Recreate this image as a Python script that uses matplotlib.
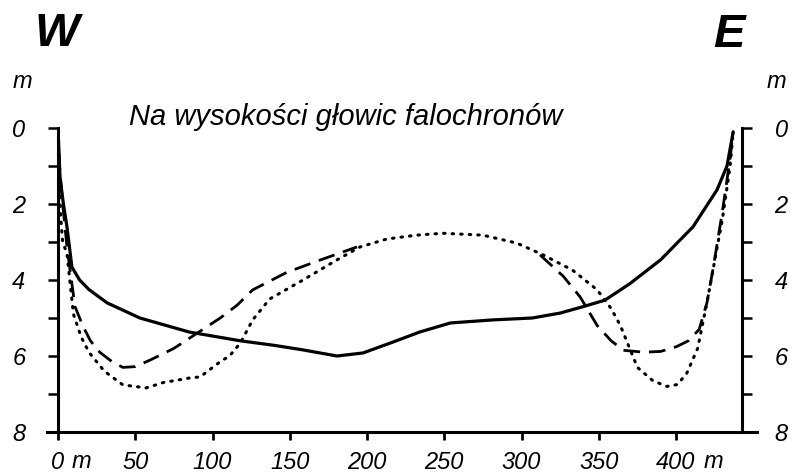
import numpy as np
import matplotlib.pyplot as plt
from matplotlib.lines import Line2D

# profile across the harbour entrance, depth in metres
solid_x = [0, 1.3, 3.5, 5.8, 9, 14, 20, 31.7, 53, 85, 118, 140, 158.6, 180.6, 197.4,
           217, 234, 254, 281.5, 307, 325, 340, 354, 370, 390, 411, 426.5, 433, 437]
solid_y = [0, 1.3, 2.0, 2.6, 3.66, 4.0, 4.25, 4.6, 5.0, 5.37, 5.6, 5.72, 5.84, 6.0, 5.92,
           5.63, 5.37, 5.13, 5.05, 5.0, 4.87, 4.7, 4.53, 4.1, 3.47, 2.6, 1.63, 1.0, 0.1]

dash_x = [0, 1, 3, 6, 9, 11, 16, 21, 27, 35, 42, 50, 60, 75, 90, 105, 116, 126, 148, 170, 193.5,
          np.nan,
          312, 327, 338, 349, 358, 366, 379, 390, 400, 408, 415, 420, 424, 430, 435, 437]
dash_y = [0, 1.0, 2.0, 3.2, 4.1, 4.7, 5.2, 5.6, 5.9, 6.15, 6.3, 6.28, 6.1, 5.8, 5.4, 5.0, 4.66, 4.26, 3.8, 3.47, 3.13,
          np.nan,
          3.34, 3.9, 4.45, 5.2, 5.6, 5.85, 5.9, 5.88, 5.76, 5.6, 5.3, 4.6, 3.7, 2.2, 0.8, 0.1]

dot_x = [0, 0.5, 1.5, 3, 5.8, 10, 15, 20, 30, 42, 57, 68, 85, 92, 105, 111, 118, 126, 137,
         158.6, 180.6, 195.5, 213, 232, 249, 275, 297, 314, 333, 349, 358, 364, 370, 375,
         385, 394, 401, 407, 414, 420, 425, 430, 435, 437]
dot_y = [0, 1.0, 2.2, 3.0, 3.3, 4.9, 5.5, 5.9, 6.4, 6.76, 6.84, 6.7, 6.58, 6.55, 6.15, 6.0, 5.66, 5.05, 4.5,
         4.0, 3.47, 3.13, 2.92, 2.82, 2.77, 2.82, 3.03, 3.34, 3.74, 4.26, 4.75, 5.2, 5.8, 6.3,
         6.65, 6.8, 6.75, 6.45, 5.8, 4.6, 3.5, 2.4, 1.0, 0.1]

x_ticks = [0, 50, 100, 150, 200, 250, 300, 350, 400]
y_major = [0, 2, 4, 6, 8]
y_minor = [1, 3, 5, 7]

title = 'Na wysokości głowic falochronów'
FONT = ['Liberation Sans Narrow', 'Liberation Sans', 'DejaVu Sans']


def main():
    plt.rcParams['font.family'] = FONT
    fig = plt.figure(figsize=(7.92, 4.75), dpi=100)
    ax = fig.add_axes([58 / 792, 43 / 475, 684 / 792, 304 / 475])

    ax.plot(solid_x, solid_y, color='black', lw=2.3, solid_capstyle='round')
    ax.plot(dash_x, dash_y, color='black', lw=2.0, dashes=(6, 3.2))
    ax.plot(dot_x, dot_y, color='black', lw=2.2, linestyle=(0, (0.5, 2.3)),
            dash_capstyle='round')

    ax.set_xlim(0, 442.7)
    ax.set_ylim(8, 0)

    ax.spines['top'].set_visible(False)
    ax.spines['bottom'].set_visible(False)
    for s in ('left', 'right'):
        ax.spines[s].set_linewidth(2.2)
    # bottom line runs a little past both side axes
    ax.add_line(Line2D([-0.016, 1.022], [0, 0], transform=ax.transAxes,
                       color='black', lw=2.2, clip_on=False))

    ax.set_xticks(x_ticks)
    ax.set_xticklabels([str(v) for v in x_ticks], fontsize=17, fontstyle='italic')
    ax.set_yticks(y_major)
    ax.set_yticklabels([str(v) for v in y_major], fontsize=17, fontstyle='italic')
    ax.set_yticks(y_minor, minor=True)
    ax.tick_params(axis='x', direction='out', length=6, width=2, pad=8)
    ax.tick_params(axis='y', which='both', direction='out', length=7.5, width=1.8,
                   left=True, right=True, labelleft=True, labelright=True, pad=16)

    fig.text(57 / 792, 1 - 34 / 475, 'W', fontsize=34, fontweight='bold',
             fontstyle='italic', ha='center', va='center')
    fig.text(729 / 792, 1 - 35 / 475, 'E', fontsize=34, fontweight='bold',
             fontstyle='italic', ha='center', va='center')
    fig.text(22 / 792, 1 - 82 / 475, 'm', fontsize=17, fontstyle='italic',
             ha='center', va='center')
    fig.text(776 / 792, 1 - 82 / 475, 'm', fontsize=17, fontstyle='italic',
             ha='center', va='center')
    fig.text(81 / 792, 1 - 462 / 475, 'm', fontsize=17, fontstyle='italic',
             ha='center', va='center')
    fig.text(713 / 792, 1 - 462 / 475, 'm', fontsize=17, fontstyle='italic',
             ha='center', va='center')
    fig.text(346 / 792, 1 - 117 / 475, title, fontsize=21, fontstyle='italic',
             ha='center', va='center')

    plt.savefig('out.png', dpi=100)


if __name__ == "__main__":
    main()
